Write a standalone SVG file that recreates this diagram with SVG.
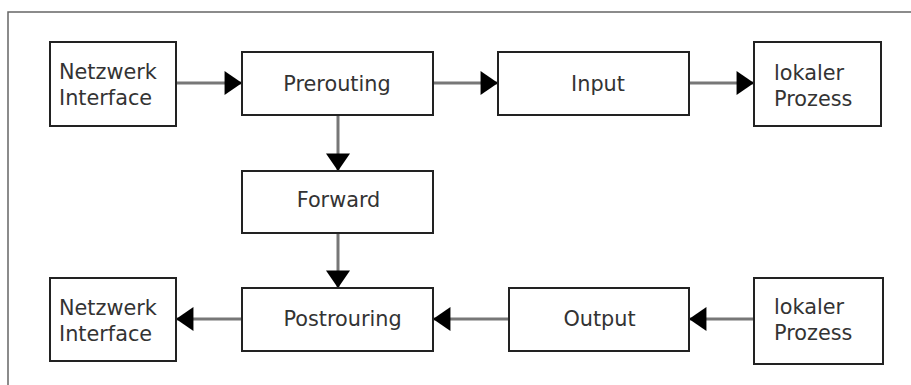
<svg xmlns="http://www.w3.org/2000/svg" width="911" height="385" viewBox="0 0 911 385">
<style>
.frame{fill:#fff;stroke:#666;stroke-width:1.5}
.node rect{fill:#fff;stroke:#222;stroke-width:2}
.node text{font-family:"DejaVu Sans",sans-serif;font-size:20.8px;fill:#333}
.c{text-anchor:middle}
.conn line{stroke:#777;stroke-width:3}
</style>
<defs>
<marker id="ah" markerUnits="userSpaceOnUse" markerWidth="18" markerHeight="24" viewBox="0 0 16 22" refX="16" refY="11" orient="auto">
<path d="M0,0 L16,11 L0,22 Z" fill="#000"/>
</marker>
</defs>
<rect width="911" height="385" fill="#fff"/>
<rect class="frame" x="8" y="12" width="920" height="390"/>
<g class="conn">
<line x1="176" y1="83" x2="242" y2="83" marker-end="url(#ah)"/>
<line x1="433" y1="83" x2="498" y2="83" marker-end="url(#ah)"/>
<line x1="689" y1="83" x2="754" y2="83" marker-end="url(#ah)"/>
<line x1="338" y1="115" x2="338" y2="171" marker-end="url(#ah)"/>
<line x1="338" y1="233" x2="338" y2="288" marker-end="url(#ah)"/>
<line x1="242" y1="319" x2="176" y2="319" marker-end="url(#ah)"/>
<line x1="509" y1="319" x2="433" y2="319" marker-end="url(#ah)"/>
<line x1="754" y1="319" x2="689" y2="319" marker-end="url(#ah)"/>
</g>
<g id="ni-top" class="node"><rect x="50" y="42" width="126" height="84"/><text x="59" y="79">Netzwerk</text><text x="59" y="105">Interface</text></g>
<g id="prerouting" class="node"><rect x="242" y="52" width="191" height="63"/><text class="c" x="337" y="91">Prerouting</text></g>
<g id="input" class="node"><rect x="498" y="52" width="191" height="63"/><text class="c" x="598" y="91">Input</text></g>
<g id="lp-top" class="node"><rect x="754" y="42" width="127" height="84"/><text x="774" y="80">lokaler</text><text x="774" y="106">Prozess</text></g>
<g id="forward" class="node"><rect x="242" y="171" width="191" height="62"/><text class="c" x="338.5" y="207">Forward</text></g>
<g id="postrouring" class="node"><rect x="242" y="288" width="191" height="63"/><text class="c" x="342.5" y="326">Postrouring</text></g>
<g id="ni-bottom" class="node"><rect x="50" y="278" width="126" height="83"/><text x="59" y="315">Netzwerk</text><text x="59" y="341">Interface</text></g>
<g id="output" class="node"><rect x="509" y="288" width="180" height="63"/><text class="c" x="599.5" y="326">Output</text></g>
<g id="lp-bottom" class="node"><rect x="754" y="278" width="129" height="86"/><text x="774" y="314">lokaler</text><text x="774" y="340">Prozess</text></g>
</svg>
